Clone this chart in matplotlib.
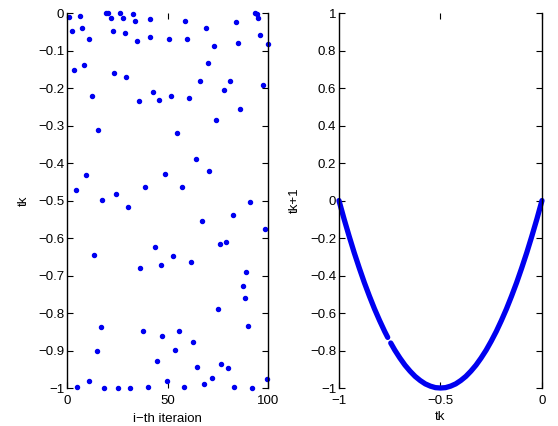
import numpy as np
from matplotlib import pyplot as plt

plt.rcParams['font.family'] = ['Liberation Sans', 'DejaVu Sans']

# left panel: t_k, by iteration
iter_idx = [1.1, 2.3, 3.5, 4.6, 5.1, 6.5, 7.5, 8.5, 9.6, 10.8,
            11.1, 12.3, 13.4, 14.8, 15.6, 16.8, 17.3, 18.3, 19.4, 20.5,
            21.7, 22.7, 23.4, 24.4, 25.4, 26.5, 27.7, 28.9, 29.4, 30.5,
            31.5, 32.7, 33.8, 35.0, 35.7, 36.3, 37.7, 38.8, 40.0, 41.0,
            41.3, 42.6, 43.8, 44.6, 45.9, 46.9, 47.4, 48.6, 49.9, 50.8,
            51.8, 52.6, 53.6, 54.7, 55.7, 56.9, 58.2, 58.5, 59.8, 60.8,
            61.7, 62.8, 64.2, 64.7, 65.8, 66.8, 67.8, 69.2, 70.1, 70.6,
            71.8, 72.8, 74.1, 75.1, 76.1, 76.6, 77.8, 79.0, 80.1, 81.1,
            82.2, 82.7, 84.1, 85.1, 86.1, 87.2, 88.2, 89.0, 89.9, 90.9,
            92.0, 93.2, 94.4, 94.9, 96.0, 97.2, 98.2, 99.4, 100.0]
tk = [-0.010, -0.047, -0.153, -0.472, -0.998, -0.008, -0.041, -0.138, -0.433, -0.981,
      -0.068, -0.221, -0.646, -0.902, -0.312, -0.837, -0.499, -1.000, 0.000, -0.001,
      -0.012, -0.047, -0.159, -0.483, -1.000, 0.000, -0.014, -0.052, -0.171, -0.518,
      -1.000, -0.003, -0.020, -0.074, -0.235, -0.681, -0.849, -0.463, -0.997, -0.017,
      -0.065, -0.211, -0.625, -0.928, -0.232, -0.672, -0.861, -0.429, -0.981, -0.068,
      -0.222, -0.649, -0.899, -0.321, -0.849, -0.463, -0.997, -0.020, -0.070, -0.227,
      -0.663, -0.876, -0.389, -0.943, -0.182, -0.554, -0.990, -0.041, -0.134, -0.421,
      -0.972, -0.088, -0.286, -0.790, -0.616, -0.937, -0.206, -0.611, -0.946, -0.180,
      -0.539, -0.997, -0.023, -0.079, -0.256, -0.728, -0.761, -0.690, -0.835, -0.504,
      -1.000, 0.000, -0.003, -0.014, -0.059, -0.192, -0.575, -0.975, -0.083]

# right panel: return map t_k -> t_k+1 (two pieces, gap near -0.75)
map_x1 = [-1.0, -0.975, -0.95, -0.925, -0.9, -0.875, -0.85, -0.825, -0.8, -0.775, -0.76]
map_y1 = [0.0, -0.098, -0.19, -0.278, -0.36, -0.438, -0.51, -0.578, -0.64, -0.698, -0.73]
map_x2 = [-0.745, -0.725, -0.7, -0.675, -0.65, -0.625, -0.6, -0.575, -0.55, -0.525, -0.5,
          -0.475, -0.45, -0.425, -0.4, -0.375, -0.35, -0.325, -0.3, -0.275, -0.25,
          -0.225, -0.2, -0.175, -0.15, -0.125, -0.1, -0.075, -0.05, -0.025, 0.0]
map_y2 = [-0.76, -0.798, -0.84, -0.878, -0.91, -0.938, -0.96, -0.978, -0.99, -0.998, -1.0,
          -0.998, -0.99, -0.978, -0.96, -0.938, -0.91, -0.878, -0.84, -0.798, -0.75,
          -0.698, -0.64, -0.578, -0.51, -0.438, -0.36, -0.278, -0.19, -0.098, 0.0]

fig = plt.figure(figsize=(5.58, 4.26), dpi=100)
ax1 = fig.add_axes([0.120, 0.0892, 0.361, 0.880])
ax2 = fig.add_axes([0.6075, 0.0892, 0.3638, 0.880])

ax1.plot(iter_idx, tk, 'o', color='#0000f0', markersize=2.9, clip_on=False)
ax1.set_xlim(0, 100)
ax1.set_ylim(-1, 0)
ax1.set_xticks([0, 50, 100])
ax1.set_yticks(np.round(np.arange(-1, 0.01, 0.1), 1))
ax1.set_yticklabels(['\u22121', '\u22120.9', '\u22120.8', '\u22120.7', '\u22120.6', '\u22120.5',
                     '\u22120.4', '\u22120.3', '\u22120.2', '\u22120.1', '0'])
ax1.set_xlabel('i\u2212th iteraion', fontsize=9.5, labelpad=4)
ax1.set_ylabel('tk', fontsize=9.5, labelpad=6)

for seg_x, seg_y in [(map_x1, map_y1), (map_x2, map_y2)]:
    ax2.plot(seg_x, seg_y, '-', color='#0000f0', lw=3.8, solid_capstyle='round', clip_on=False)
ax2.set_xlim(-1, 0)
ax2.set_ylim(-1, 1)
ax2.set_xticks([-1, -0.5, 0])
ax2.set_xticklabels(['\u22121', '\u22120.5', '0'])
ax2.set_yticks(np.round(np.arange(-1, 1.01, 0.2), 1))
ax2.set_yticklabels(['\u22121', '\u22120.8', '\u22120.6', '\u22120.4', '\u22120.2', '0',
                     '0.2', '0.4', '0.6', '0.8', '1'])
ax2.set_xlabel('tk', fontsize=9.5, labelpad=3)
ax2.set_ylabel('tk+1', fontsize=9.5, labelpad=7)

for ax in (ax1, ax2):
    ax.spines['top'].set_visible(False)
    ax.spines['bottom'].set_visible(False)
    ax.spines['left'].set_linewidth(1.0)
    ax.spines['right'].set_linewidth(1.0)
    ax.tick_params(direction='in', top=True, right=True, length=4, width=0.8,
                   labelsize=9.5, colors='black')
    ax.tick_params(axis='x', pad=5)
    ax.tick_params(axis='y', pad=2)

plt.savefig('out.png', dpi=100)
